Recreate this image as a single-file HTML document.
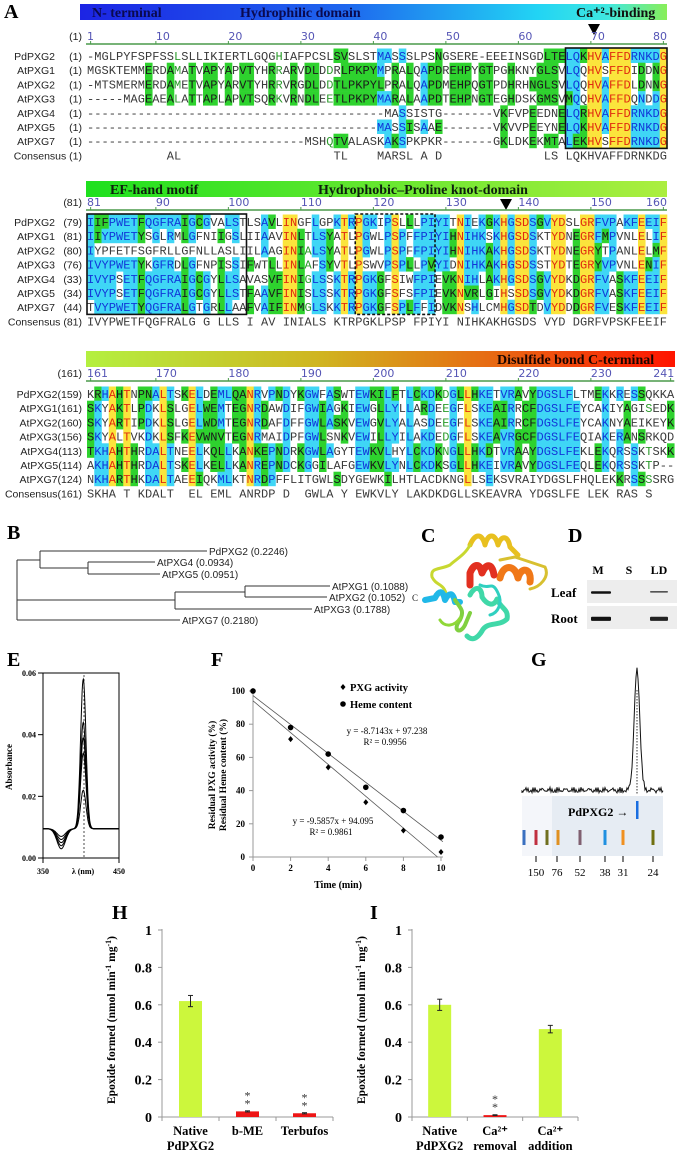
<!DOCTYPE html>
<html><head><meta charset="utf-8">
<style>
html,body{margin:0;padding:0;background:#fff;}
#fig{position:absolute;left:0;top:0;width:678px;height:1150px;}
text{font-family:"Liberation Serif",serif;}
</style></head>
<body>
<svg id="fig" width="678" height="1150" viewBox="0 0 678 1150" xmlns="http://www.w3.org/2000/svg">
<defs>
<linearGradient id="g1" x1="0" x2="1" y1="0" y2="0"><stop offset="0" stop-color="#1c24e4"/><stop offset="0.45" stop-color="#1e66ee"/><stop offset="0.78" stop-color="#22d4f4"/><stop offset="0.9" stop-color="#40e8e0"/><stop offset="1" stop-color="#88ee58"/></linearGradient>
<linearGradient id="g2" x1="0" x2="1" y1="0" y2="0"><stop offset="0" stop-color="#1ee01e"/><stop offset="1" stop-color="#acee40"/></linearGradient>
<linearGradient id="g3" x1="0" x2="1" y1="0" y2="0"><stop offset="0" stop-color="#b4f040"/><stop offset="0.4" stop-color="#d0b420"/><stop offset="0.75" stop-color="#ec5a10"/><stop offset="1" stop-color="#ff1400"/></linearGradient>
</defs>
<g id="align"></g>
<g id="rest"></g>
</svg>
<script>
const SEQ1=["-MGLPYFSPFSSLSLLIKIERTLGQGHIAFPCSLSVSLSTMASSSLPSNGSERE-EEEINSGDLTELQKHVAFFDRNKDG",
"MGSKTEMMERDAMATVAPYAPVTYHRRARVDLDDRLPKPYMPRALQAPDREHPYGTPGHKNYGLSVLQQHVSFFDIDDNG",
"-MTSMERMERDAMETVAPYARVTYHRRVRGDLDDTLPKPYLPRALQAPDMEHPQGTPDHRHNGLSVLQQHVAFFDLDNNG",
"-----MAGEAEALATTAPLAPVTSQRKVRNDLEETLPKPYMARALAAPDTEHPNGTEGHDSKGMSVMQQHVAFFDQNDDG",
"----------------------------------------MASSISTG-------VKFVPEEDNELQRHVAFFDRNKDG",
"----------------------------------------MASSISAAE-------VKVVPEEYNELQKHVAFFDRNKDG",
"-----------------------------------MSHQTVALASKAKSPKPKR-------GKLDKEKMTALEKHVSFFDRNKDG"];
const CONS1="           AL                     TL    MARSL A D              LS LQKHVAFFDRNKDG";
const SEQ2=["IIFPWETFQGFRAIGCGVALSTLSAVLINGFLGPKTRPGKIPSLLLPIYITNIEKGKHGSDSGVYDSLGRFVPAKFEEIF",
"IIYPWETYSGLRMLGFNIIGSLIIAAVINLTLSYATLPGWLPSPFFPIYIHNIHKSKHGSDSKTYDNEGRFMPVNLELIF",
"IIYPFETFSGFRLLGFNLLASLIILAAGINIALSYATLPGWLPSPFFPIYIHNIHKAKHGSDSKTYDNEGRYTPANLELMF",
"IVYPWETYKGFRDLGFNPISSIFWTLLINLAFSYVTLPSWVPSPLLPVYIDNIHKAKHGSDSSTYDTEGRYVPVNLENIF",
"IVYPSETFQGFRAIGCGYLLSAVASVFINIGLSSKTRPGKGFSIWFPIEVKNIHLAKHGSDSGVYDKDGRFVASKFEEIF",
"IVYPSETFQGFRAIGCGYLLSTFAAVFINISLSSKTRPGKGFSFSFPIEVKNVRLGIHSSDSGVYDKDGRFVASKFEEIF",
"TVYPWETYQGFRALGTGRLLAAFVAIFINMGLSKKTRPGKGFSPLFFIDVKNSHLCMHGSDTDVYDDDGRFVESKFEEIF"];
const CONS2="IVYPWETFQGFRALG G LLS I AV INIALS KTRPGKLPSP FPIYI NIHKAKHGSDS VYD DGRFVPSKFEEIF";
const SEQ3=["KRHAHTNPNALTSKELDEMLQANRVPNDYKGWFASWTEWKILFTLCKDKDGLLHKETVRAVYDGSLFLTMEKKRESSQKKA",
"SKYAKTLPDKLSLGELWEMTEGNRDAWDIFGWIAGKIEWGLLYLLARDEEGFLSKEAIRRCFDGSLFEYCAKIYAGISEDK",
"SKYARTIPDKLSLGELWDMTEGNRDAFDFFGWLASKVEWGVLYALASDEEGFLSKEAIRRCFDGSLFEYCAKNYAEIKEYK",
"SKYALTVKDKLSFKEVWNVTEGNRMAIDPFGWLSNKVEWILLYILAKDEDGFLSKEAVRGCFDGSLFEQIAKERANSRKQD",
"TKHAHTHRDALTNEELKQLLKANKEPNDRKGWLAGYTEWKVLHYLCKDKNGLLHKDTVRAAYDGSLFEKLEKQRSSKTSKK",
"AKHAHTHRDALTSKELKELLKANREPNDCKGGILAFGEWKVLYNLCKDKSGLLHKEIVRAVYDGSLFEQLEKQRSSKTP--",
"NKHARTHKDALTAEEIQKMLKTNRDPFFLITGWLSDYGEWKILHTLACDKNGLLSEKSVRAIYDGSLFHQLEKKRSSSSRG"];
const CONS3="SKHA T KDALT  EL EML ANRDP D  GWLA Y EWKVLY LAKDKDGLLSKEAVRA YDGSLFE LEK RAS S";
const NAMES=["PdPXG2","AtPXG1","AtPXG2","AtPXG3","AtPXG4","AtPXG5","AtPXG7"];
const START1=["(1)","(1)","(1)","(1)","(1)","(1)","(1)"];
const START2=["(79)","(81)","(80)","(76)","(33)","(34)","(44)"];
const START3=["(159)","(161)","(160)","(156)","(113)","(114)","(124)"];

// chart data
const treeLeaves=["PdPXG2 (0.2246)","AtPXG4 (0.0934)","AtPXG5 (0.0951)","AtPXG1 (0.1088)","AtPXG2 (0.1052)","AtPXG3 (0.1788)","AtPXG7 (0.2180)"];
const ePeaks=[0.058,0.044,0.039,0.034,0.022];
const eDips=[0.003,0.004,0.005,0.006,0.007];
const eTickVals=[0,0.02,0.04,0.06];
const fTimes=[0,2,4,6,8,10];
const fPXG=[100,71,54,33,16,3];
const fHeme=[100,78,62,42,28,12];
const fYTicks=[0,20,40,60,80,100];
const fSlopes=[-9.5857,-8.7143];
const fIntercepts=[94.095,97.238];
const gMarkers=["150","76","52","38","31","24"];
const hCats=[["Native","PdPXG2"],["b-ME"],["Terbufos"]];
const hVals=[0.62,0.03,0.02];
const hErrs=[0.03,0.003,0.003];
const iCats=[["Native","PdPXG2"],["Ca\u00B2\u207A","removal"],["Ca\u00B2\u207A","addition"]];
const iVals=[0.60,0.01,0.47];
const iErrs=[0.03,0.002,0.02];
const barTicks=[0,0.2,0.4,0.6,0.8,1];

const NS="http://www.w3.org/2000/svg";
const A=document.getElementById('align');
const R=document.getElementById('rest');
function el(tag,attrs,parent,txt){const e=document.createElementNS(NS,tag);for(const k in attrs)e.setAttribute(k,attrs[k]);
  if(attrs['font-family'])e.style.fontFamily=attrs['font-family'];
  if(txt!==undefined)e.textContent=txt;parent.appendChild(e);return e;}

const X0=87,CW=7.25,RH=14.2;
const MONO='"Liberation Mono", monospace';
const SANS='"DejaVu Sans", sans-serif';
const LSANS='"Liberation Sans", sans-serif';
const GROUPS=["ILVM","FYW","KRH","DENQ","ST","AG","P","C"];
function grp(c){for(let i=0;i<GROUPS.length;i++)if(GROUPS[i].indexOf(c)>=0)return i;return -1;}
function norm(s,n){if(s.length>n)s=s.slice(s.length-n);while(s.length<n)s='-'+s;return s;}

function block(seqs,cons,starts,n,bar,yBar,yNum,yRow0,numLabels,firstNum,sepLabel,barTexts,tri,boxes,bname){
  const g=el('g',{},A);
  
  
  const b=el('rect',{x:bar[0],y:yBar,width:bar[1]-bar[0],height:16,fill:bar[2]},g);
  
  
  barTexts.forEach(t=>{const tt=el('text',{x:t[0],y:yBar+13,'font-size':14,'font-weight':'bold',fill:t[2]},g,t[1]);
    
    });
  if(tri){const p=el('path',{d:`M${tri[0]-6},${tri[1]-6} L${tri[0]+6},${tri[1]-6} L${tri[0]},${tri[1]+5} Z`,fill:'#000'},g);
    
    }
  const nl=el('text',{x:82,y:yNum+4,'font-size':10.5,'text-anchor':'end',fill:'#222','font-family':LSANS},g,'('+firstNum+')');
  
  
  el('line',{x1:86,x2:X0+n*CW,y1:yNum+8,y2:yNum+8,stroke:'#4a9a4a','stroke-width':1.5},g);
  numLabels.forEach((v,k)=>{const col=v-firstNum;let x=X0+col*CW+ (k==0?0:CW/2);
    const anchor=(k==numLabels.length-1)?'end':'start'; if(k==numLabels.length-1)x=X0+n*CW;
    const t=el('text',{x:x,y:yNum+4,'font-size':11,'text-anchor':anchor,fill:'#5555b5','font-family':SANS},g,String(v));
    
    
    el('line',{x1:X0+col*CW+CW/2,x2:X0+col*CW+CW/2,y1:yNum+5,y2:yNum+8,stroke:'#4a9a4a'},g);});
  const S=seqs.map(s=>norm(s,n));
  for(let c=0;c<n;c++){
    const cnt={};let nn=0;S.forEach(s=>{const ch=s[c];if(ch!=='-'&&ch!==' '){cnt[ch]=(cnt[ch]||0)+1;nn++;}});
    let r=null,m=0;for(const k in cnt)if(cnt[k]>m){m=cnt[k];r=k;}
    let gc=0;const gr=r?grp(r):-1;S.forEach(s=>{if(gr>=0&&grp(s[c])===gr)gc++;});
    S.forEach((s,ri)=>{
      const ch=s[c];const y=yRow0+ri*RH;let bg=null,fg='#3a3a3a';
      if(ch!=='-'){
        if(nn>=5&&m===nn){bg='#fbe43c';fg='#e02a10';}
        else if(m>=4&&ch===r){bg='#3fd6f6';fg='#1236d8';}
        else if(m>=3&&gr>=0&&grp(ch)===gr&&gc>=3){bg='#2ed22e';fg='#1a1a1a';}
        else if(gc>=4&&grp(ch)===gr){fg='#2a9a2a';}
      }
      if(bg){el('rect',{x:X0+c*CW,y:y-7.5,width:CW+0.3,height:RH+0.3,fill:bg},g);}
      const t=el('text',{x:X0+c*CW+CW/2,y:y+4,'font-size':12,'text-anchor':'middle',fill:fg,'font-family':MONO},g,ch);
      
      
    });
  }
  S.forEach((s,ri)=>{const y=yRow0+ri*RH+4;
    if(sepLabel){const t=el('text',{x:55,y:y,'font-size':10.5,'text-anchor':'end',fill:'#222','font-family':LSANS},g,NAMES[ri]);
      
      
      const t2=el('text',{x:82,y:y,'font-size':10.5,'text-anchor':'end',fill:'#222','font-family':LSANS},g,starts[ri]);
      
      }
    else{const t=el('text',{x:82,y:y,'font-size':10.5,'text-anchor':'end',fill:'#222','font-family':LSANS},g,NAMES[ri]+starts[ri]);
      
      }
  });
  const yc=yRow0+7*RH+4;
  const ct=el('text',{x:82,y:yc,'font-size':10.5,'text-anchor':'end',fill:'#222','font-family':LSANS},g,sepLabel?'Consensus ('+firstNum+')':'Consensus('+firstNum+')');
  
  
  let cs=cons;while(cs.length<n)cs+=' ';
  for(let c=0;c<n;c++){if(cs[c]===' ')continue;
    const t=el('text',{x:X0+c*CW+CW/2,y:yc,'font-size':12,'text-anchor':'middle',fill:'#3a3a3a','font-family':MONO},g,cs[c]);
    
    }
  boxes.forEach(bx=>{const r=el('rect',{x:X0+bx[0]*CW,y:yRow0-8,width:(bx[1]-bx[0])*CW,height:7*RH+1,fill:'none',stroke:'#111','stroke-width':1.6,'stroke-dasharray':bx[2]?'3,2':'none'},g);
    
    });
}
block(SEQ1,CONS1,START1,80,[80,667,'url(#g1)'],4,36,56,[1,10,20,30,40,50,60,70,80],1,true,
  [[92,'N- terminal','#0a0a50'],[240,'Hydrophilic domain','#0a0a50'],[576,'Ca\u207A\u00B2-binding','#111']],[594,30],[[66,80,false]],'alignment-block-1');
block(SEQ2,CONS2,START2,80,[86,667,'url(#g2)'],181,202,222,[81,90,100,110,120,130,140,150,160],81,true,
  [[110,'EF-hand motif','#0c200c'],[318,'Hydrophobic\u2013Proline knot-domain','#0c200c']],[506,205],[[0,22,false],[37,48,true]],'alignment-block-2');
block(SEQ3,CONS3,START3,81,[86,675,'url(#g3)'],351,373,394,[161,170,180,190,200,210,220,230,241],161,false,
  [[497,'Disulfide bond C-terminal','#1a0500']],null,[],'alignment-block-3');

function lab(x,y,t,name){const e=el('text',{x:x,y:y,'font-size':20,'font-weight':'bold',fill:'#000'},R,t);
  
  }
lab(4,18,'A','panel-label-a');lab(7,539,'B','panel-label-b');lab(421,542,'C','panel-label-c');lab(568,542,'D','panel-label-d');
lab(7,666,'E','panel-label-e');lab(211,666,'F','panel-label-f');lab(531,666,'G','panel-label-g');lab(112,919,'H','panel-label-h');lab(370,919,'I','panel-label-i');

// B tree
(function(){const g=el('g',{stroke:'#333','stroke-width':1,fill:'none'},R);
  
  
  const L=[[40,551,207],[88,562,155],[88,574,160],[245,586,330],[245,597,327],[175,609,312],[17,620,180]];
  const segs=[[17,560,17,620],[17,560,40,560],[40,551,40,568],[40,568,88,568],[88,562,88,574],[17,600,175,600],[175,592,175,609],[175,592,245,592],[245,586,245,597]];
  segs.forEach(s=>el('line',{x1:s[0],y1:s[1],x2:s[2],y2:s[3]},g));
  L.forEach((l,i)=>{el('line',{x1:l[0],y1:l[1],x2:l[2],y2:l[1]},g);
    const t=el('text',{x:l[2]+2,y:l[1]+4,'font-size':10,fill:'#222',stroke:'none','font-family':LSANS},R,treeLeaves[i]);
    
    });
})();

// C protein
(function(){const g=el('g',{fill:'none','stroke-linecap':'round','stroke-linejoin':'round'},R);
  
  
  const P=[['#e8c020',5,'M470,545 c5,-12 12,-12 15,0 c3,-12 10,-12 13,0 c3,-10 10,-10 12,2 l8,8'],
   ['#d8c030',3,'M500,560 l15,-3 l30,10 c5,10 -5,20 -15,22'],
   ['#c8d830',3,'M470,545 c-5,10 -15,15 -20,20 c-10,5 -20,2 -18,12 c5,10 12,5 15,20'],
   ['#f07818',7,'M500,578 c3,-14 15,-14 18,0 c3,-12 14,-10 12,4'],
   ['#e23020',7,'M470,585 l0,-12 c4,-10 10,-10 12,0 c4,-10 10,-10 12,2'],
   ['#20b8e8',6,'M425,600 l10,-2 c4,-8 8,-8 10,2 c4,-8 8,-8 10,2 l5,0'],
   ['#80d040',4,'M455,600 c5,8 10,10 5,20 c-8,10 0,15 5,5 l5,-12'],
   ['#40d8a8',5,'M470,595 c5,-10 12,-8 12,2 c5,8 12,10 15,2 c4,10 12,10 10,20 c-8,8 -20,2 -25,12 c-5,8 -10,10 -15,5'],
   ['#30d0c0',3,'M480,585 c10,5 12,-5 18,8 c5,10 0,20 -8,22'],
   ['#90d838',3,'M440,620 c5,8 15,6 20,-2']];
  P.forEach(p=>{const e=el('path',{d:p[2],stroke:p[0],'stroke-width':p[1]},g);
    
    });
  const t=el('text',{x:412,y:601,'font-size':9,fill:'#222'},R,'C');
  
  
})();

// D blot
(function(){const g=el('g',{},R);
  
  
  [['M',598],['S',629],['LD',659]].forEach(c=>{const t=el('text',{x:c[1],y:574,'font-size':12,'font-weight':'bold','text-anchor':'middle'},g,c[0]);
    
    });
  [['Leaf',580,592,1.6],['Root',606,618,2.6]].forEach(r=>{
    el('rect',{x:587,y:r[1],width:90,height:23,fill:'#ededed'},g);
    const t=el('text',{x:551,y:r[2]+5,'font-size':13,'font-weight':'bold'},g,r[0]);
    
    
    el('rect',{x:591,y:r[2]-r[3]/2,width:20,height:r[3]*1.6,fill:'#111',rx:1},g);
    el('rect',{x:650,y:r[2]-r[3]/2,width:18,height:r[3]*(r[0]=='Leaf'?0.8:1.6),fill:'#222',rx:1},g);});
})();

// E spectra
(function(){const g=el('g',{},R);
  
  
  const xs=l=>43+(l-350)/100*76, ys=v=>858-v/0.06*185;
  el('rect',{x:43,y:673,width:76,height:185,fill:'none',stroke:'#000','stroke-width':1},g);
  eTickVals.forEach(v=>{el('line',{x1:38,x2:43,y1:ys(v),y2:ys(v),stroke:'#000'},g);
    const t=el('text',{x:36,y:ys(v)+3,'font-size':8,'text-anchor':'end','font-weight':'bold'},g,v.toFixed(2));
    
    });
  [[350,43],[450,119]].forEach(p=>{el('line',{x1:p[1],x2:p[1],y1:858,y2:863,stroke:'#000'},g);
    const t=el('text',{x:p[1],y:874,'font-size':8,'text-anchor':'middle','font-weight':'bold'},g,String(p[0]));
    
    });
  const xt=el('text',{x:83,y:874,'font-size':8,'text-anchor':'middle','font-weight':'bold'},g,'\u03BB (nm)');
  
  
  const yt=el('text',{x:0,y:0,'font-size':9,'text-anchor':'middle','font-weight':'bold',transform:'translate(12,767) rotate(-90)'},g,'Absorbance');
  
  
  el('line',{x1:84,x2:84,y1:675,y2:858,stroke:'#000','stroke-dasharray':'2,2','stroke-width':0.7},g);
  ePeaks.forEach((p,i)=>{let d='';for(let l=350;l<=450;l+=0.5){
      const v=0.0095-(0.0095-eDips[i])*Math.exp(-Math.pow((l-374)/8,2))+(p-0.0095)*Math.exp(-Math.pow((l-403)/5,2));
      d+=(l==350?'M':'L')+xs(l).toFixed(1)+','+ys(v).toFixed(1);}
    const e=el('path',{d:d,fill:'none',stroke:'#000','stroke-width':1},g);
    
    });
})();

// F decay
(function(){const g=el('g',{},R);
  
  
  const xs=t=>253+t*18.8, ys=v=>857-v*1.66;
  el('line',{x1:253,x2:253,y1:688,y2:857,stroke:'#999'},g);
  el('line',{x1:253,x2:443,y1:857,y2:857,stroke:'#999'},g);
  fYTicks.forEach(v=>{el('line',{x1:249,x2:253,y1:ys(v),y2:ys(v),stroke:'#999'},g);
    const t=el('text',{x:245,y:ys(v)+3,'font-size':9,'text-anchor':'end','font-weight':'bold'},g,String(v));
    
    });
  fTimes.forEach(v=>{el('line',{x1:xs(v),x2:xs(v),y1:857,y2:861,stroke:'#999'},g);
    const t=el('text',{x:xs(v),y:871,'font-size':9,'text-anchor':'middle','font-weight':'bold'},g,String(v));
    
    });
  const xt=el('text',{x:338,y:888,'font-size':10,'text-anchor':'middle','font-weight':'bold'},g,'Time (min)');
  
  
  const y1=el('text',{x:0,y:0,'font-size':9.5,'text-anchor':'middle','font-weight':'bold',transform:'translate(215,775) rotate(-90)'},g,'Residual PXG activity (%)');
  
  
  const y2=el('text',{x:0,y:0,'font-size':9.5,'text-anchor':'middle','font-weight':'bold',transform:'translate(226,775) rotate(-90)'},g,'Residual Heme content (%)');
  
  
  fSlopes.forEach((s,i)=>{const x1=0,x2=Math.min(10.1,-fIntercepts[i]/s);
    const l=el('line',{x1:xs(x1),y1:ys(fIntercepts[i]+s*x1),x2:xs(x2),y2:ys(fIntercepts[i]+s*x2),stroke:'#555','stroke-width':0.8},g);
    
    });
  fTimes.forEach((t,i)=>{const d=el('path',{d:`M${xs(t)},${ys(fPXG[i])-3} l2.5,3 l-2.5,3 l-2.5,-3 Z`,fill:'#000'},g);
    
    
    const c=el('circle',{cx:xs(t),cy:ys(fHeme[i]),r:2.8,fill:'#000'},g);
    
    });
  el('path',{d:'M343,684 l2.5,3 l-2.5,3 l-2.5,-3 Z',fill:'#000'},g);
  const l1=el('text',{x:350,y:691,'font-size':10.5,'font-weight':'bold'},g,'PXG activity');
  
  
  el('circle',{cx:343,cy:704,r:2.8,fill:'#000'},g);
  const l2=el('text',{x:350,y:708,'font-size':10.5,'font-weight':'bold'},g,'Heme content');
  
  
  [['y = -8.7143x + 97.238',387,734],['R\u00B2 = 0.9956',385,745],['y = -9.5857x + 94.095',333,824],['R\u00B2 = 0.9861',331,835]].forEach(e=>{
    const t=el('text',{x:e[1],y:e[2],'font-size':9,'text-anchor':'middle'},g,e[0]);
    
    });
})();

// G
(function(){const g=el('g',{},R);
  
  
  let d='M522,793';for(let x=522;x<=663;x+=1){let v=793-Math.abs(Math.sin(x*1.7)*4+Math.sin(x*0.9)*2);
    v-=120*Math.exp(-Math.pow((x-637)/4,2));d+=' L'+x+','+v.toFixed(1);}
  const p=el('path',{d:d,fill:'none',stroke:'#111','stroke-width':1},g);
  
  
  el('line',{x1:637,x2:637,y1:690,y2:795,stroke:'#000','stroke-dasharray':'1.5,1.5','stroke-width':0.8},g);
  el('rect',{x:522,y:796,width:141,height:60,fill:'#e6ecf3'},g);
  el('rect',{x:522,y:796,width:30,height:60,fill:'#f4f6fa'},g);
  const pt=el('text',{x:568,y:816,'font-size':12,'font-weight':'bold'},g,'PdPXG2 \u2192');
  
  
  el('rect',{x:636,y:801,width:2.5,height:18,fill:'#1a6ee0'},g);
  [[524,'#3a70c0'],[536,'#c03040'],[547,'#707020'],[558,'#e09020'],[580,'#806070'],[605,'#2090e0'],[623,'#f09020'],[653,'#707010']].forEach(b=>{
    const r=el('rect',{x:b[0]-1.5,y:830,width:3,height:15,fill:b[1]},g);
    
    });
  [536,557,580,605,623,653].forEach((x,i)=>{el('line',{x1:x,x2:x,y1:856,y2:862,stroke:'#000'},g);
    const t=el('text',{x:x,y:876,'font-size':11,'text-anchor':'middle'},g,gMarkers[i]);
    
    });
})();

// H / I bar charts
function bars(ax,xEnd,cats,vals,errs,name){const g=el('g',{},R);
  
  
  const ys=v=>1117-v*187, step=(xEnd-ax)/cats.length;
  el('line',{x1:ax,x2:ax,y1:929,y2:1117,stroke:'#999'},g);
  el('line',{x1:ax,x2:xEnd,y1:1117,y2:1117,stroke:'#999'},g);
  barTicks.forEach(v=>{el('line',{x1:ax-4,x2:ax,y1:ys(v),y2:ys(v),stroke:'#999'},g);
    const t=el('text',{x:ax-10,y:ys(v)+5,'font-size':14,'font-weight':'bold','text-anchor':'end'},g,String(v));
    
    });
  for(let i=0;i<=cats.length;i++)el('line',{x1:ax+i*step,x2:ax+i*step,y1:1117,y2:1121,stroke:'#999'},g);
  const yt=el('text',{x:0,y:0,'font-size':11.5,'font-weight':'bold','text-anchor':'middle',transform:`translate(${ax-47},1020) rotate(-90)`},g);
  
  
  yt.innerHTML='Epoxide formed (nmol min<tspan font-size="8" dy="-4">-1</tspan><tspan dy="4"> mg</tspan><tspan font-size="8" dy="-4">-1</tspan><tspan dy="4">)</tspan>';
  vals.forEach((v,i)=>{const cx=ax+step*(i+0.5);const small=v<0.1;
    const b=el('rect',{x:cx-11.5,y:ys(v),width:23,height:v*187,fill:small?'#ee1515':'#ccf73c'},g);
    
    
    const e=errs[i];
    el('line',{x1:cx,x2:cx,y1:ys(v+e),y2:ys(v-e),stroke:'#222'},g);
    el('line',{x1:cx-2.5,x2:cx+2.5,y1:ys(v+e),y2:ys(v+e),stroke:'#222'},g);
    el('line',{x1:cx-2.5,x2:cx+2.5,y1:ys(v-e),y2:ys(v-e),stroke:'#222'},g);
    if(small){[0,1].forEach(k=>{const s=el('text',{x:cx,y:ys(v)-4-k*8,'font-size':12,'text-anchor':'middle',fill:'#333'},g,'*');
      
      });}
    cats[i].forEach((c,k)=>{const t=el('text',{x:cx,y:1135+k*15,'font-size':12.5,'font-weight':'bold','text-anchor':'middle'},g,c);
      
      });
  });
}
bars(162,333,hCats,hVals,hErrs,'bar-chart-h');
bars(412,578,iCats,iVals,iErrs,'bar-chart-i');
</script>
</body></html>
